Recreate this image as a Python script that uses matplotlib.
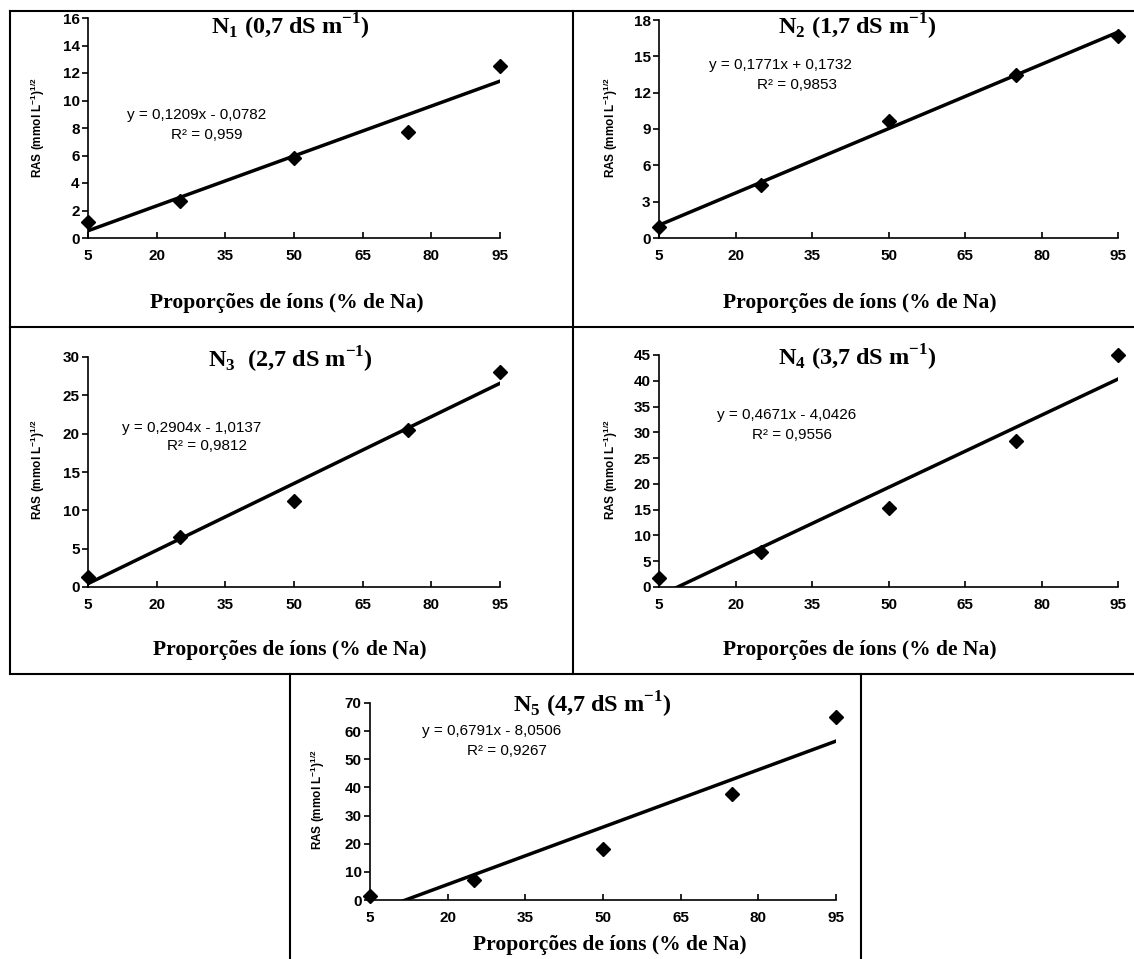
import matplotlib
matplotlib.use("Agg")
import matplotlib.pyplot as plt
from matplotlib.lines import Line2D

plt.rcParams['mathtext.fontset'] = 'custom'
plt.rcParams['mathtext.rm'] = 'Liberation Serif:bold'
plt.rcParams['mathtext.bf'] = 'Liberation Serif:bold'
plt.rcParams['mathtext.sf'] = 'Liberation Sans:bold'

# Data
na_pct = [5, 25, 50, 75, 95]
ras_n1 = [1.2, 2.7, 5.8, 7.7, 12.5]
ras_n2 = [0.9, 4.4, 9.7, 13.5, 16.7]
ras_n3 = [1.3, 6.5, 11.2, 20.5, 28.0]
ras_n4 = [1.7, 6.8, 15.3, 28.3, 45.0]
ras_n5 = [1.5, 7.0, 18.0, 37.5, 65.0]

slopes = [0.1209, 0.1771, 0.2904, 0.4671, 0.6791]
intercepts = [-0.0782, 0.1732, -1.0137, -4.0426, -8.0506]
r2_values = ["0,959", "0,9853", "0,9812", "0,9556", "0,9267"]
eq_texts = ["y = 0,1209x - 0,0782", "y = 0,1771x + 0,1732", "y = 0,2904x - 1,0137",
            "y = 0,4671x - 4,0426", "y = 0,6791x - 8,0506"]
titles = [r"N$_{\mathbf{1}}$ (0,7 dS m$^{\mathbf{-1}}$)",
          r"N$_{\mathbf{2}}$ (1,7 dS m$^{\mathbf{-1}}$)",
          r"N$_{\mathbf{3}}$  (2,7 dS m$^{\mathbf{-1}}$)",
          r"N$_{\mathbf{4}}$ (3,7 dS m$^{\mathbf{-1}}$)",
          r"N$_{\mathbf{5}}$ (4,7 dS m$^{\mathbf{-1}}$)"]
y_tops = [16, 18, 30, 45, 70]
y_steps = [2, 3, 5, 5, 10]
x_ticks = [5, 20, 35, 50, 65, 80, 95]

all_ras = [ras_n1, ras_n2, ras_n3, ras_n4, ras_n5]

W, H = 1134, 959
fig = plt.figure(figsize=(W / 100, H / 100), dpi=100)

# plot areas in pixels: left, top, right, bottom
boxes = [(88, 18, 500, 238), (659, 20, 1118, 238),
         (88, 357, 500, 587), (659, 355, 1118, 587),
         (370, 703, 836, 900)]
# equation / R2 / title / xlabel / ylabel positions in pixels
eq_pos = [(197, 115), (780, 65), (192, 428), (787, 415), (492, 731)]
r2_pos = [(207, 135), (797, 85), (207, 446), (792, 435), (507, 751)]
title_pos = [(290, 27), (857, 27), (290, 360), (857, 358), (592, 705)]
xlab_pos = [(287, 303), (860, 303), (290, 650), (860, 650), (610, 945)]
ylab_pos = [(38, 128), (611, 128), (38, 470), (611, 470), (318, 800)]

sans = 'Liberation Sans'
serif = 'Liberation Serif'


def fx(p):
    return p / W


def fy(p):
    return 1 - p / H


for i in range(5):
    l, t, r, b = boxes[i]
    ax = fig.add_axes([fx(l), fy(b), (r - l) / W, (b - t) / H])
    ax.plot(na_pct, all_ras[i], ls='none', marker='D', color='black', markersize=7, clip_on=False, zorder=5)
    xs = [5, 95]
    ax.plot(xs, [slopes[i] * x + intercepts[i] for x in xs], color='black', lw=2.5)
    ax.set_xlim(5, 95)
    ax.set_ylim(0, y_tops[i])
    ax.set_xticks(x_ticks)
    ax.set_yticks(list(range(0, y_tops[i] + 1, y_steps[i])))
    for s in ['top', 'right']:
        ax.spines[s].set_visible(False)
    for s in ['left', 'bottom']:
        ax.spines[s].set_linewidth(1.2)
    ax.tick_params(axis='y', direction='out', length=4, width=1.2, pad=2)
    ax.tick_params(axis='x', direction='in', length=4, width=1.2, pad=8)
    for lab in ax.get_xticklabels() + ax.get_yticklabels():
        lab.set_fontfamily(sans)
        lab.set_fontweight('bold')
        lab.set_fontsize(11)
    ax.patch.set_alpha(0)

    fig.text(fx(eq_pos[i][0]), fy(eq_pos[i][1]), eq_texts[i], ha='center', va='center',
             fontfamily=sans, fontsize=11)
    fig.text(fx(r2_pos[i][0]), fy(r2_pos[i][1]), "R² = " + r2_values[i], ha='center', va='center',
             fontfamily=sans, fontsize=11)
    fig.text(fx(title_pos[i][0]), fy(title_pos[i][1]), titles[i], ha='center', va='center',
             fontfamily=serif, fontweight='bold', fontsize=17.5)
    fig.text(fx(xlab_pos[i][0]), fy(xlab_pos[i][1]), "Proporções de íons (% de Na)",
             ha='center', va='center', fontfamily=serif, fontweight='bold', fontsize=15.5)
    fig.text(fx(ylab_pos[i][0]), fy(ylab_pos[i][1]),
             r"RAS (mmol L$^{\mathsf{-1}}$)$^{\mathsf{1/2}}$", rotation=90,
             ha='center', va='center', fontfamily=sans, fontweight='bold', fontsize=8.5)

# panel frames
frame_lines = [
    ((10, 1134), (11, 11)),
    ((10, 10), (11, 674)),
    ((573, 573), (11, 674)),
    ((10, 1134), (327, 327)),
    ((10, 1134), (674, 674)),
    ((290, 290), (674, 959)),
    ((861, 861), (674, 959)),
]
for xs, ys in frame_lines:
    fig.add_artist(Line2D([fx(xs[0]), fx(xs[1])], [fy(ys[0]), fy(ys[1])],
                          color='black', lw=1.5, transform=fig.transFigure))

fig.savefig("out.png", dpi=100)
